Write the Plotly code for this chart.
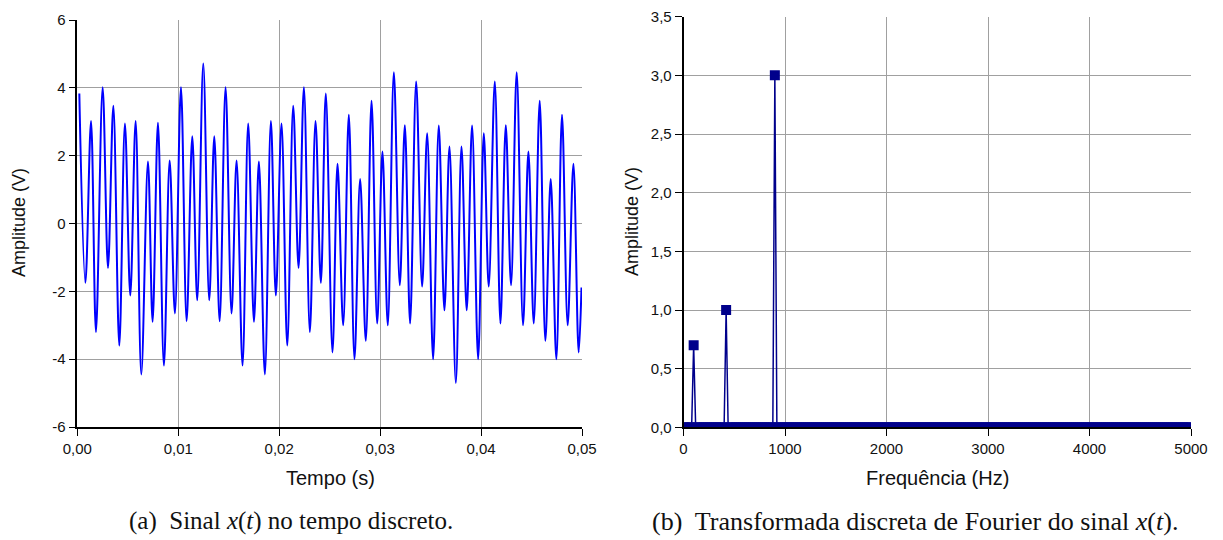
import plotly.graph_objects as go

# ---------------- data: time signal (extrema) ----------------
t_s = [0.00020, 0.00080, 0.00136, 0.00185, 0.00251, 0.00304, 0.00357, 0.00416,
       0.00472, 0.00525, 0.00578, 0.00634, 0.00700, 0.00746, 0.00799, 0.00858,
       0.00915, 0.00967, 0.01027, 0.01083, 0.01139, 0.01188, 0.01248, 0.01307,
       0.01357, 0.01410, 0.01469, 0.01528, 0.01578, 0.01637, 0.01693, 0.01750,
       0.01799, 0.01858, 0.01918, 0.01967, 0.02023, 0.02080, 0.02139, 0.02192,
       0.02245, 0.02304, 0.02360, 0.02413, 0.02462, 0.02528, 0.02578, 0.02634,
       0.02690, 0.02746, 0.02802, 0.02858, 0.02915, 0.02971, 0.03023, 0.03076,
       0.03136, 0.03195, 0.03245, 0.03297, 0.03357, 0.03416, 0.03466, 0.03525,
       0.03581, 0.03637, 0.03687, 0.03750, 0.03806, 0.03858, 0.03911, 0.03971,
       0.04027, 0.04076, 0.04136, 0.04192, 0.04245, 0.04297, 0.04353, 0.04416,
       0.04469, 0.04522, 0.04581, 0.04637, 0.04690, 0.04746, 0.04802, 0.04858,
       0.04915, 0.04967, 0.04995]
x_v = [3.83, -1.75, 3.02, -3.20, 4.02, -1.31, 3.47, -3.60,
       2.95, -2.12, 3.02, -4.45, 1.83, -2.90, 2.97, -4.19,
       1.86, -2.65, 4.02, -2.88, 2.57, -2.26, 4.72, -2.26,
       2.57, -2.88, 4.02, -2.65, 1.86, -4.19, 2.95, -2.90,
       1.83, -4.45, 3.02, -2.12, 2.95, -3.60, 3.47, -1.31,
       4.02, -3.20, 3.02, -1.75, 3.83, -3.80, 1.76, -3.00,
       3.21, -4.00, 1.31, -3.46, 3.62, -2.95, 2.12, -3.00,
       4.46, -1.82, 2.90, -2.95, 4.19, -1.86, 2.66, -4.00,
       2.89, -2.56, 2.27, -4.70, 2.27, -2.56, 2.89, -4.00,
       2.66, -1.86, 4.19, -2.95, 2.90, -1.82, 4.46, -3.00,
       2.12, -2.95, 3.62, -3.46, 1.31, -4.00, 3.21, -3.00,
       1.76, -3.80, -1.89]

# ---------------- data: DFT magnitude ----------------
freq_hz = list(range(0, 5001, 20))
peak_amp = {100: 0.7, 420: 1.0, 900: 3.0}
amp_v = [peak_amp.get(f, 0.0) for f in freq_hz]

left_y_ticks = [-6, -4, -2, 0, 2, 4, 6]
left_y_text = ["-6", "-4", "-2", "0", "2", "4", "6"]

W, H = 1223, 540

def px(x):
    return x / W

def py(y):
    return 1 - y / H

fig = go.Figure()
fig.add_trace(go.Scatter(x=t_s, y=x_v, mode="lines",
                         line=dict(color="#0000ff", width=2, shape="spline", smoothing=1.0),
                         xaxis="x", yaxis="y", showlegend=False))
fig.add_trace(go.Scatter(x=freq_hz, y=amp_v, mode="lines+markers",
                         line=dict(color="#00008b", width=1.5),
                         marker=dict(symbol="square", size=10, color="#00008b"),
                         xaxis="x2", yaxis="y2", showlegend=False))

tickfont = dict(family="Liberation Sans, Arial", size=15, color="#111")
common = dict(showline=True, linecolor="black", linewidth=1.6, ticks="outside",
              ticklen=7, tickwidth=1.4, tickcolor="black", showgrid=True,
              gridcolor="#a0a0a0", gridwidth=1, zeroline=False, tickfont=tickfont,
              mirror=False, automargin=False)

fig.update_layout(
    width=W, height=H, margin=dict(l=0, r=0, t=0, b=0, autoexpand=False),
    paper_bgcolor="white", plot_bgcolor="white",
    separators=",.",
    xaxis=dict(domain=[px(77.3), px(582)], range=[0, 0.05], dtick=0.01, tick0=0,
               tickformat=".2f", anchor="y", **common),
    yaxis=dict(domain=[py(427), py(20)], range=[-6, 6], tickvals=left_y_ticks,
               ticktext=left_y_text, anchor="x", **common),
    xaxis2=dict(domain=[px(683.5), px(1191)], range=[0, 5000], dtick=1000, tick0=0,
                anchor="y2", **common),
    yaxis2=dict(domain=[py(427.4), py(16.7)], range=[0, 3.5], dtick=0.5, tick0=0,
                tickformat=".1f", anchor="x2", **common),
)

htitle = dict(family="Liberation Sans, Arial", size=20, color="#111")
vtitle = dict(family="Liberation Sans, Arial", size=18, color="#111")
capfont_a = dict(family="Liberation Serif, Times New Roman", size=25, color="#111")
capfont_b = dict(family="Liberation Serif, Times New Roman", size=26, color="#111")
ann = [
    dict(text="Tempo (s)", x=px(330), y=py(478), font=htitle),
    dict(text="Frequência (Hz)", x=px(937), y=py(478), font=htitle),
    dict(text="Amplitude (V)", x=px(19), y=py(223), font=vtitle, textangle=-90),
    dict(text="Amplitude (V)", x=px(632), y=py(222), font=vtitle, textangle=-90),
    dict(text="(a)  Sinal <i>x</i>(<i>t</i>) no tempo discreto.", x=px(291), y=py(521), font=capfont_a),
    dict(text="(b)  Transformada discreta de Fourier do sinal <i>x</i>(<i>t</i>).", x=px(915), y=py(521), font=capfont_b),
]
for a in ann:
    fig.add_annotation(xref="paper", yref="paper", xanchor="center", yanchor="middle",
                       showarrow=False, **a)

fig.write_html("out.html")
